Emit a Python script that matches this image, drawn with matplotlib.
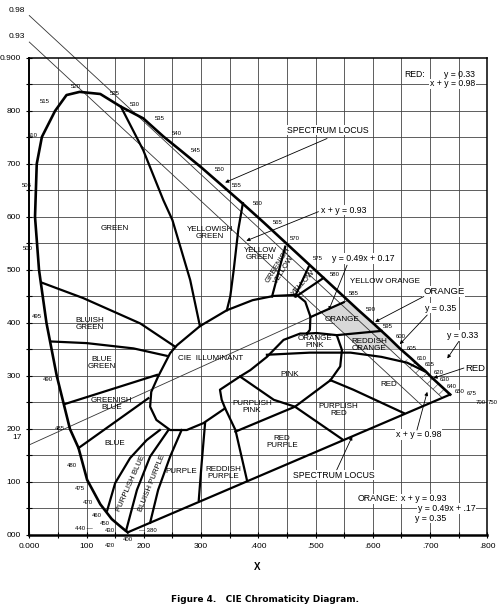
import matplotlib.pyplot as plt

# chromaticity values are in thousandths (x*1000, y*1000)
locus_x = [172, 166, 157, 144, 124, 101, 86, 71, 48, 30, 17, 10, 13, 22, 45, 65, 88, 124,
           160, 199, 234, 266, 302, 337, 373, 409, 444, 479, 512, 545, 575, 603, 627, 648,
           666, 680, 692, 701, 708, 714, 719, 723, 726, 730, 735]
locus_y = [5, 10, 18, 30, 58, 104, 164, 200, 300, 400, 500, 600, 700, 751, 800, 830, 836, 832,
           808, 786, 752, 724, 692, 659, 625, 590, 555, 520, 487, 454, 424, 397, 373, 351,
           334, 320, 309, 299, 292, 286, 281, 277, 274, 270, 265]
purple_line = [(172, 5), (735, 265)]

wl_labels = ['515', '520', '525', '530', '535', '540', '545', '550', '555', '560', '565', '570',
             '575', '580', '585', '590', '595', '600', '605', '610', '615', '620', '630', '640',
             '650', '675', '700', '750', '510', '505', '500', '495', '490', '485', '480', '475',
             '470', '460', '450', '440 —', '430', '420', '400', '— 380']
wl_x = [27, 82, 150, 185, 227, 258, 291, 332, 363, 399, 434, 463, 504, 533, 566, 597, 626, 648,
        667, 686, 700, 715, 725, 738, 752, 773, 788, 810, 7, -4, -2, 13, 33, 54, 74, 89,
        102, 118, 132, 95, 141, 141, 173, 207]
wl_y = [818, 847, 832, 813, 786, 758, 726, 690, 660, 625, 589, 560, 522, 491, 455, 425, 393, 374,
        352, 333, 321, 307, 294, 281, 270, 266, 250, 250, 753, 660, 541, 412, 293, 201, 132, 88,
        61, 36, 22, 13, 8, -19, -9, 8]

# thin reference lines
line_98 = [(0, 980), (721, 259)]
line_93 = [(0, 930), (687, 243)]
line_49 = [(0, 170), (555, 442)]

# colour-name boundaries
white_region = [(485, 380), (473, 380), (444, 368), (415, 336), (386, 311), (368, 299), (333, 274),
                (336, 255), (342, 239), (304, 211), (275, 198), (246, 198), (222, 217), (211, 242),
                (213, 270), (225, 299), (246, 343), (258, 358), (298, 394), (345, 424), (390, 443),
                (427, 451), (467, 453), (482, 440), (491, 412), (490, 387), (485, 380)]
pink_lobe = [(485, 380), (502, 381), (537, 377), (546, 349), (543, 318), (526, 292)]
green_yelgreen = [(160, 808), (199, 726), (234, 632), (250, 594), (281, 481), (298, 394)]
yelgreen_yg = [(373, 626), (365, 576), (357, 500), (351, 450), (345, 424)]
yg_gy = [(447, 544), (424, 450)]
gy_yellow = [(488, 506), (464, 450)]
yellow_yo = [(466, 450), (514, 485)]
yo_orange = [(491, 411), (549, 439)]
orange_ro = [(537, 377), (615, 385)]
ro_red = [(415, 340), (490, 344), (561, 344), (615, 336), (660, 325), (690, 309)]
green_bg = [(22, 476), (94, 447), (194, 399), (255, 355)]
bg_blgreen = [(39, 365), (100, 362), (182, 352), (240, 338)]
blgreen_gb = [(62, 247), (223, 302)]
gb_blue = [(86, 164), (208, 258)]
blue_pb = [(136, 46), (150, 98), (176, 145), (205, 179), (228, 198)]
pb_bp = [(169, 8), (188, 85), (211, 148), (243, 198)]
bp_purple = [(211, 23), (225, 85), (246, 148), (266, 198)]
purple_rp = [(296, 66), (301, 135), (307, 211)]
rp_pp = [(342, 239), (360, 198), (380, 104)]
redp_pp = [(360, 195), (464, 242), (526, 292)]
pink_pr = [(368, 299), (427, 255), (464, 242), (546, 181)]
pr_red = [(526, 292), (566, 274), (654, 230)]
boundaries = [green_yelgreen, yelgreen_yg, yg_gy, gy_yellow, yellow_yo, yo_orange, orange_ro,
              ro_red, green_bg, bg_blgreen, blgreen_gb, gb_blue, blue_pb, pb_bp, bp_purple,
              purple_rp, rp_pp, redp_pp, pink_pr, pr_red, white_region, pink_lobe]

orange_zone = [(512, 421), (555, 442), (575, 424), (603, 397), (627, 373), (649, 350), (580, 350)]
red_zone = [(650, 330), (670, 332), (680, 320), (692, 309), (701, 299), (708, 292), (714, 286),
            (719, 281), (726, 274), (735, 265), (721, 259)]

region_names = ['GREEN', 'YELLOWISH\nGREEN', 'YELLOW\nGREEN', 'ORANGE',
                'REDDISH\nORANGE', 'ORANGE\nPINK', 'PINK', 'RED', 'PURPLISH\nRED', 'RED\nPURPLE',
                'REDDISH\nPURPLE', 'PURPLE', 'BLUE', 'GREENISH\nBLUE', 'BLUE\nGREEN',
                'BLUISH\nGREEN', 'CIE  ILLUMINANT', 'PURPLISH\nPINK']
region_x = [150, 316, 403, 546, 593, 499, 455, 628, 540, 441, 339, 266, 150, 144, 127, 106,
            316, 389]
region_y = [579, 569, 531, 406, 358, 365, 302, 283, 236, 176, 116, 120, 173, 247, 325, 398,
            333, 242]
rot_names = ['GREENISH\nYELLOW', 'YELLOW', 'BLUISH PURPLE', 'PURPLISH BLUE']
rot_x = [440, 478, 214, 177]
rot_y = [505, 476, 98, 98]
rot_angle = [58, 48, 68, 66]

plt.rcParams['font.family'] = ['Liberation Sans', 'DejaVu Sans']
plt.rcParams['hatch.linewidth'] = 0.5
fig = plt.figure(figsize=(4.99, 6.10), dpi=100)
ax = fig.add_axes([0.0587, 0.123, 0.918, 0.782])
ax.set_xlim(0, 800)
ax.set_ylim(0, 900)

for v in range(50, 800, 50):
    ax.axvline(v, color='#444444', lw=0.6, zorder=0)
for v in range(50, 900, 50):
    ax.axhline(v, color='#444444', lw=0.6, zorder=0)

ax.set_xticks(range(0, 801, 100))
ax.set_xticklabels(['0.000', '100', '200', '300', '.400', '.500', '.600', '.700', '.800'],
                   fontsize=6)
ax.set_yticks(range(0, 901, 100))
ax.set_yticklabels(['000', '100', '200', '300', '400', '500', '600', '700', '800', '0.900'],
                   fontsize=6)
ax.set_xticks(range(50, 800, 100), minor=True)
ax.set_yticks(range(50, 900, 100), minor=True)
ax.tick_params(which='both', direction='inout', length=4, width=0.8, pad=4)
for s in ax.spines.values():
    s.set_linewidth(1.1)
ax.spines['bottom'].set_linewidth(1.8)
ax.spines['left'].set_linewidth(1.4)

# shaded zones
ax.fill([p[0] for p in orange_zone], [p[1] for p in orange_zone], fc='#d8d8d8', ec='none',
        zorder=1)
ax.fill([p[0] for p in red_zone], [p[1] for p in red_zone], fc='none', ec='#666666', lw=0,
        hatch='///', zorder=1)

# thin lines
for ln in [line_98, line_93, line_49]:
    ax.plot([p[0] for p in ln], [p[1] for p in ln], color='#333333', lw=0.6, clip_on=False,
            zorder=2)

# spectrum locus, purple line and region boundaries
ax.plot(locus_x, locus_y, color='black', lw=1.9, zorder=4, solid_joinstyle='round')
ax.plot([p[0] for p in purple_line], [p[1] for p in purple_line], color='black', lw=1.6, zorder=4)
for b in boundaries:
    ax.plot([p[0] for p in b], [p[1] for p in b], color='black', lw=1.6, zorder=4,
            solid_joinstyle='round')

for t, x, y in zip(wl_labels, wl_x, wl_y):
    ax.text(x, y, t, fontsize=4.3, ha='center', va='center', clip_on=False, zorder=5)

for t, x, y in zip(region_names, region_x, region_y):
    ax.text(x, y, t, fontsize=5.8, ha='center', va='center', linespacing=1.0, zorder=5)
for t, x, y, a in zip(rot_names, rot_x, rot_y, rot_angle):
    ax.text(x, y, t, fontsize=5.6, ha='center', va='center', rotation=a, linespacing=1.0,
            zorder=5)

# extra axis marks
ax.text(-22, 990, '0.98', fontsize=6, ha='center', va='center', clip_on=False)
ax.text(-22, 940, '0.93', fontsize=6, ha='center', va='center', clip_on=False)
ax.text(-22, 183, '17', fontsize=6, ha='center', va='center', clip_on=False)

wb = dict(fc='white', ec='none', pad=0.6)
ax.text(655, 868, 'RED:', fontsize=6.2, ha='left', va='center', zorder=6)
ax.text(779, 868, 'y = 0.33', fontsize=6.2, ha='right', va='center', zorder=6)
ax.text(779, 851, 'x + y = 0.98', fontsize=6.2, ha='right', va='center', bbox=wb, zorder=6)
ax.text(522, 764, 'SPECTRUM LOCUS', fontsize=6.3, ha='center', va='center', bbox=wb, zorder=6)
ax.text(550, 613, 'x + y = 0.93', fontsize=6.3, ha='center', va='center', bbox=wb, zorder=6)
ax.text(583, 522, 'y = 0.49x + 0.17', fontsize=6.3, ha='center', va='center', bbox=wb, zorder=6)
ax.text(621, 479, 'YELLOW ORANGE', fontsize=5.8, ha='center', va='center', zorder=6)
ax.text(724, 459, 'ORANGE', fontsize=6.8, ha='center', va='center', bbox=wb, zorder=6)
ax.text(718, 428, 'y = 0.35', fontsize=6.3, ha='center', va='center', bbox=wb, zorder=6)
ax.text(756, 376, 'y = 0.33', fontsize=6.3, ha='center', va='center', bbox=wb, zorder=6)
ax.text(779, 315, 'RED', fontsize=6.8, ha='center', va='center', bbox=wb, zorder=6)
ax.text(680, 189, 'x + y = 0.98', fontsize=6.3, ha='center', va='center', bbox=wb, zorder=6)
ax.text(531, 113, 'SPECTRUM LOCUS', fontsize=6.3, ha='center', va='center', bbox=wb, zorder=6)
ax.text(573, 68, 'ORANGE:', fontsize=6.3, ha='left', va='center', bbox=wb, zorder=6)
ax.text(729, 68, 'x + y = 0.93', fontsize=6.3, ha='right', va='center', bbox=wb, zorder=6)
ax.text(678, 50, 'y = 0.49x + .17', fontsize=6.3, ha='left', va='center', bbox=wb, zorder=6)
ax.text(729, 32, 'y = 0.35', fontsize=6.3, ha='right', va='center', bbox=wb, zorder=6)

arrows = [((342, 665), (520, 748)), ((379, 555), (505, 610)), ((523, 424), (555, 509)),
          ((604, 402), (689, 450)), ((647, 360), (695, 415)), ((730, 333), (750, 365)),
          ((706, 296), (759, 315)), ((695, 270), (677, 198)), ((564, 186), (537, 123))]
for head, tail in arrows:
    ax.annotate('', xy=head, xytext=tail,
                arrowprops=dict(arrowstyle='-|>', lw=0.6, color='black', mutation_scale=5,
                                shrinkA=0, shrinkB=0), zorder=6)

fig.text(0.515, 0.070, 'X', fontsize=7, fontweight='bold', ha='center', va='center')
fig.text(0.531, 0.018, 'Figure 4.   CIE Chromaticity Diagram.', fontsize=6.4, fontweight='bold',
         ha='center', va='center', family=['Liberation Sans Narrow', 'DejaVu Sans'])

fig.savefig('out.png', dpi=100)
